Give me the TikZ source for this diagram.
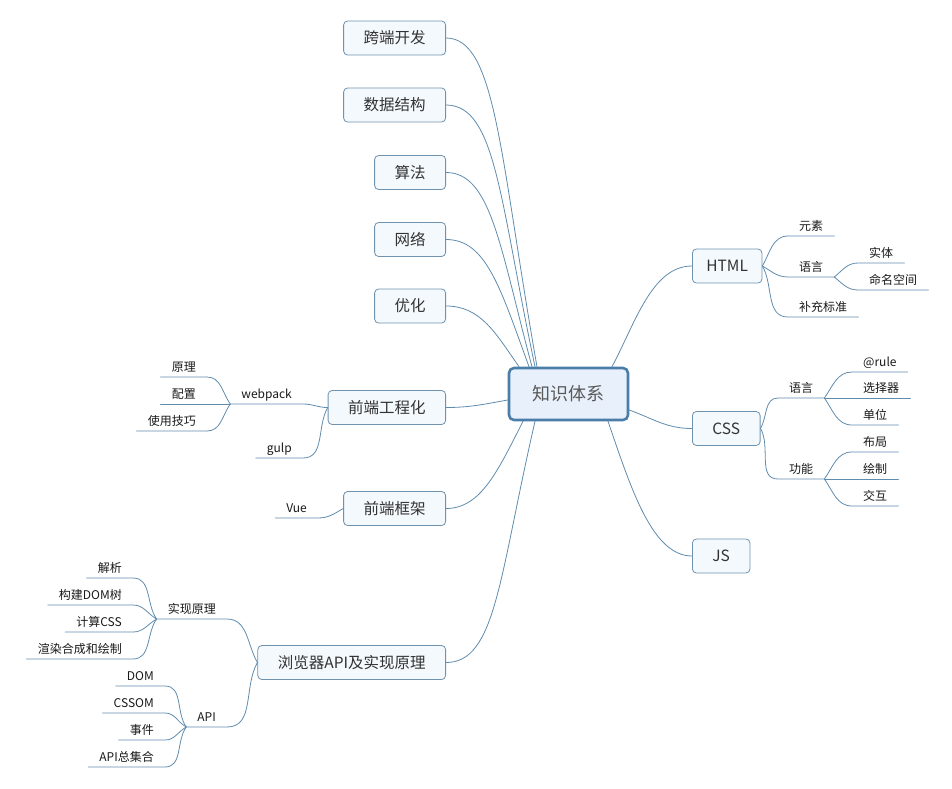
\documentclass[tikz,border=0pt]{standalone}
\usepackage{fontspec}
\setmainfont{Noto Sans CJK SC}
\definecolor{linec}{HTML}{5F8CAD}
\definecolor{boxline}{HTML}{6F93AE}
\definecolor{boxfill}{HTML}{F4F9FE}
\definecolor{rootline}{HTML}{4A7EA8}
\definecolor{rootfill}{HTML}{E8F1FB}
\tikzset{
  root/.style={draw=rootline, line width=2.6pt, fill=rootfill, rounded corners=5pt,
    minimum width=119pt, minimum height=52pt, text=black!65, font=\fontsize{18}{20}\selectfont},
  topic/.style={draw=boxline, line width=0.8pt, fill=boxfill, rounded corners=4pt,
    inner xsep=20pt, minimum height=34pt, text=black!80, font=\fontsize{15.5}{18}\selectfont},
  leaf/.style={inner xsep=11pt, inner ysep=3pt, text height=9pt, text depth=2pt,
    text=black!90, font=\fontsize{12}{14}\selectfont},
  branch/.style={draw=linec, line width=0.8pt}
}
\begin{document}
\begin{tikzpicture}[x=1pt, y=1pt, line join=round, line cap=round]
  \useasboundingbox (0,0) rectangle (952,-788);
  \node[root] (c) at (568.5,-394) {知识体系};
  % main topics, left
  \foreach \n/\y/\t in {k1/38/跨端开发, k2/105/数据结构, k3/172.5/算法, k4/239.5/网络, k5/306/优化,
      fe/407.5/前端工程化, fw/508.5/前端框架, br/662.5/浏览器API及实现原理}
    \node[topic, anchor=east] (\n) at (446,-\y) {\t};
  % main topics, right
  \node[topic, anchor=west, inner xsep=14pt] (html) at (692,-266) {HTML};
  \node[topic, anchor=west] (css) at (692,-428.5) {CSS};
  \node[topic, anchor=west] (js) at (692,-556) {JS};
  % connectors from the root
  \foreach \n/\dx/\ang/\od/\id in {k1/-31.5/100/215/50, k2/-33.5/102/170/50, k3/-36.5/105/125/45,
      k4/-39.5/110/85/40, k5/-49.5/125/40/35}
    \draw[branch] ([xshift=\dx]c.north) to[out=\ang, in=0, out distance=\od pt, in distance=\id pt] (\n.east);
  \draw[branch] ([yshift=-6]c.west) to[out=190, in=0] (fe.east);
  \draw[branch] ([xshift=-45.5]c.south) to[out=-117, in=0, out distance=55pt, in distance=35pt] (fw.east);
  \draw[branch] ([xshift=-33.5]c.south) to[out=-103, in=0, out distance=160pt, in distance=50pt] (br.east);
  \draw[branch] ([xshift=43.5]c.north) to[out=62, in=180, out distance=50pt, in distance=40pt] (html.west);
  \draw[branch] ([yshift=-16]c.east) to[out=-20, in=180] (css.west);
  \draw[branch] ([xshift=39.5]c.south) to[out=-71, in=180, out distance=70pt, in distance=40pt] (js.west);
  % leaves, right side
  \foreach \n/\p/\x/\y/\ang/\t in {h1/html.east/788/236/60/元素, h2/html.east/788/277/-30/语言,
      h3/html.east/788/317/-60/补充标准, h21/h2.south east/858/263/40/实体, h22/h2.south east/858/290/-40/命名空间,
      s1/css.east/778/398/60/语言, s2/css.east/778/479/-60/功能,
      s11/s1.south east/852/372/55/@rule, s12/s1.south east/852/398/0/选择器, s13/s1.south east/852/425/-55/单位,
      s21/s2.south east/852/452/55/布局, s22/s2.south east/852/479/0/绘制, s23/s2.south east/852/506/-55/交互}
  {
    \node[leaf, anchor=south west] (\n) at (\x,-\y) {\t};
    \draw[branch] (\p) to[out=\ang, in=180] (\n.south west) -- (\n.south east);
  }
  % leaves, left side
  \foreach \n/\p/\x/\y/\ang/\t in {w1/fe.west/303/404/180/webpack, w2/fe.west/303/458/-120/gulp,
      w11/w1.south west/207/377/125/原理, w12/w1.south west/207/404/180/配置, w13/w1.south west/207/431/-125/使用技巧,
      v1/fw.west/318/518/-150/Vue,
      b1/br.west/227/619/120/实现原理, b2/br.west/227/727/-120/API,
      b11/b1.south west/133/578/125/解析, b12/b1.south west/133/605/150/构建DOM树,
      b13/b1.south west/133/632/-150/计算CSS, b14/b1.south west/133/659/-125/渲染合成和绘制,
      b21/b2.south west/165/686/125/DOM, b22/b2.south west/165/713/150/CSSOM,
      b23/b2.south west/165/740/-150/事件, b24/b2.south west/165/767/-125/API总集合}
  {
    \node[leaf, anchor=south east] (\n) at (\x,-\y) {\t};
    \draw[branch] (\p) to[out=\ang, in=0] (\n.south east) -- (\n.south west);
  }
\end{tikzpicture}
\end{document}
